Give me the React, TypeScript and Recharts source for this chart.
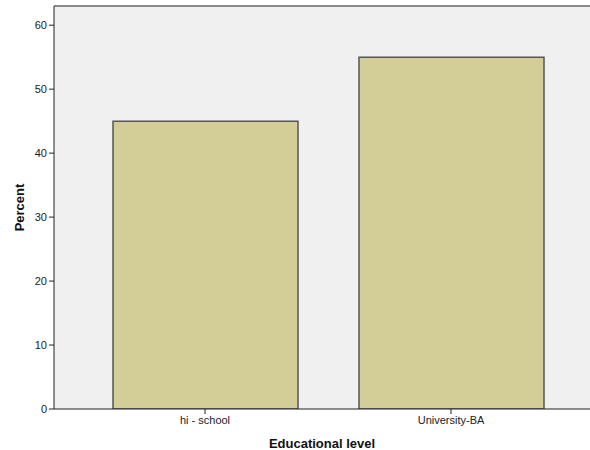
import { BarChart, Bar, XAxis, YAxis, CartesianGrid, ReferenceLine } from 'recharts';

const levels = ['hi - school', 'University-BA'];
const percents = [45, 55];
const yTicks = [0, 10, 20, 30, 40, 50, 60];

const data = levels.map((level, i) => ({ level, percent: percents[i] }));

const font = '"Liberation Sans", Arial, sans-serif';

export default function App() {
  return (
    <div style={{ position: 'absolute', left: 0, top: 0, background: '#fff' }}>
      <BarChart
        width={590}
        height={450}
        data={data}
        margin={{ top: 6, right: 0, bottom: 0, left: 0 }}
        barSize={185}
      >
        <CartesianGrid fill="#F0F0F0" horizontal={false} vertical={false} />
        <ReferenceLine y={63} stroke="#8a8a8a" strokeWidth={2} />
        <XAxis
          dataKey="level"
          height={41}
          padding={{ left: 28, right: 16 }}
          stroke="#222"
          tickSize={5}
          tick={{ fill: '#222', fontSize: 11, fontFamily: font }}
          label={{
            value: 'Educational level',
            position: 'insideBottom',
            offset: 2,
            style: { fill: '#111', fontSize: 13, fontWeight: 'bold', fontFamily: font },
          }}
        />
        <YAxis
          width={54}
          domain={[0, 63]}
          ticks={yTicks}
          allowDataOverflow
          stroke="#222"
          tickSize={5}
          tick={{ fill: '#222', fontSize: 11, fontFamily: font }}
          label={{
            value: 'Percent',
            angle: -90,
            position: 'insideLeft',
            offset: 19,
            style: { fill: '#111', fontSize: 13, fontWeight: 'bold', fontFamily: font, textAnchor: 'middle' },
          }}
        />
        <Bar dataKey="percent" fill="#D3CE97" stroke="#555" strokeWidth={1.5} isAnimationActive={false} />
      </BarChart>
    </div>
  );
}
